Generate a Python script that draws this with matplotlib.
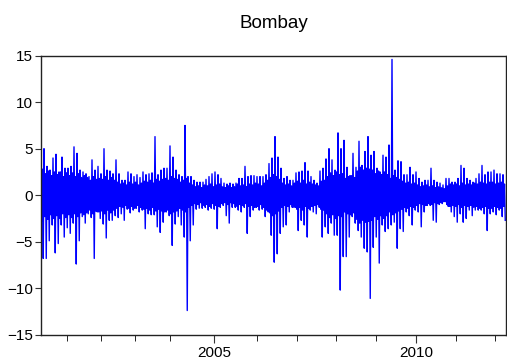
import numpy as np
import matplotlib
matplotlib.use('Agg')
import matplotlib.pyplot as plt

plt.rcParams['font.family'] = ['Liberation Sans', 'DejaVu Sans']

# daily return envelope (upper / lower extreme per step)
hi = [6.3, 5.0, 3.1, 2.7, 4.0, 4.4, 2.5, 4.1, 2.9, 2.9, 3.1, 5.2, 4.5, 2.7, 2.5, 2.3, 2.0, 3.8,
      2.7, 3.1, 2.3, 5.0, 2.7, 2.6, 2.3, 3.8, 2.3, 1.6, 1.6, 2.5, 2.3, 2.0, 2.2, 1.9, 2.5, 2.2,
      2.3, 2.4, 6.3, 2.2, 2.7, 2.9, 2.9, 5.3, 4.1, 2.7, 2.2, 2.0, 7.5, 2.0, 2.0, 1.6, 1.4, 1.4,
      1.4, 1.7, 2.0, 2.3, 2.5, 2.2, 1.8, 1.3, 1.2, 1.3, 1.2, 1.3, 1.8, 1.8, 3.1, 2.0, 2.1, 2.1,
      2.0, 2.0, 2.0, 2.2, 3.4, 4.0, 6.3, 4.1, 2.9, 1.8, 2.0, 1.6, 1.6, 2.4, 2.5, 2.6, 3.5, 2.6,
      2.0, 1.6, 1.3, 2.6, 2.9, 3.9, 5.0, 3.8, 2.7, 6.7, 5.0, 5.9, 3.0, 2.1, 4.5, 3.0, 5.8, 3.2,
      4.7, 6.3, 4.3, 4.7, 2.9, 2.5, 4.3, 4.1, 5.4, 14.6, 2.7, 3.7, 3.6, 2.2, 2.2, 3.0, 2.2, 2.5,
      1.8, 1.4, 1.6, 1.6, 2.9, 1.6, 1.4, 1.3, 1.1, 1.8, 1.8, 1.4, 1.4, 1.8, 3.2, 2.9, 1.8, 1.6,
      1.4, 1.8, 2.3, 3.2, 2.2, 2.5, 2.5, 2.7, 2.3, 2.3, 2.2]
lo = [-6.8, -6.8, -4.9, -3.2, -6.2, -5.2, -3.2, -4.5, -3.5, -4.1, -3.0, -7.4, -4.9, -2.3, -3.0,
      -2.0, -2.4, -6.8, -1.8, -2.5, -3.1, -4.6, -2.7, -2.7, -2.2, -2.4, -2.0, -2.7, -1.5, -1.9,
      -1.6, -1.4, -1.8, -1.6, -3.6, -2.0, -2.1, -2.1, -3.4, -4.0, -2.9, -1.8, -2.2, -5.4, -3.1,
      -2.3, -3.2, -4.5, -12.4, -4.9, -3.2, -1.5, -1.4, -1.4, -1.3, -1.6, -1.4, -1.5, -3.6, -1.3,
      -1.1, -2.2, -3.0, -1.3, -1.3, -1.6, -1.8, -1.3, -4.1, -2.3, -1.6, -1.3, -1.6, -1.5, -2.3,
      -1.8, -4.3, -7.2, -6.3, -4.1, -3.4, -3.2, -1.8, -1.3, -1.3, -3.8, -2.7, -3.2, -4.5, -1.6,
      -1.8, -2.0, -1.3, -4.5, -3.4, -4.1, -3.0, -4.3, -4.3, -10.2, -6.6, -6.6, -4.5, -2.3, -3.0,
      -3.8, -4.5, -5.7, -6.1, -11.1, -5.6, -4.5, -7.3, -3.2, -3.9, -3.6, -3.2, -2.9, -5.7, -3.6,
      -3.9, -1.8, -2.2, -3.2, -1.6, -1.8, -3.4, -1.8, -1.1, -1.1, -2.7, -2.9, -1.0, -0.9, -0.7,
      -1.2, -1.8, -2.3, -2.9, -2.0, -2.9, -2.5, -1.6, -2.2, -1.6, -1.6, -1.6, -2.0, -3.8, -2.0,
      -1.8, -2.1, -1.6, -2.3, -2.7]
# half-width of the dense core of the band per step
core = [2.8, 2.3, 2.6, 2.1, 2.5, 2.2, 2.6, 2.0, 2.4, 2.1, 2.4, 2.0, 2.3, 1.9, 2.1,
        1.9, 1.6, 2.0, 1.7, 1.8, 1.7, 2.0, 1.6, 1.9, 1.6, 1.4, 1.2, 1.3, 1.1, 1.4,
        1.2, 1.4, 1.1, 1.3, 1.5, 1.4, 1.6, 1.3, 1.7, 1.5, 1.7, 1.9, 1.6, 2.0, 1.8,
        1.7, 1.4, 1.6, 1.8, 1.3, 1.1, 0.9, 1.0, 0.8, 1.1, 1.0, 1.2, 0.9, 1.1, 1.2,
        0.9, 0.8, 1.0, 0.8, 0.9, 1.2, 1.0, 1.1, 0.9, 1.2, 1.1, 1.3, 1.2, 1.0, 1.3,
        1.6, 1.9, 2.2, 2.0, 1.7, 1.3, 1.1, 1.2, 1.0, 1.3, 1.5, 1.3, 1.6, 1.2, 1.4,
        1.2, 1.1, 1.0, 1.5, 1.6, 2.0, 2.4, 2.1, 2.5, 2.2, 2.3, 1.8, 2.0, 2.2, 1.9,
        2.6, 3.0, 2.7, 2.9, 2.8, 2.7, 2.3, 2.6, 2.2, 2.5, 2.2, 1.8, 2.1, 1.9, 1.7,
        1.5, 1.3, 1.4, 1.2, 1.3, 1.1, 0.9, 1.0, 1.1, 0.9, 1.0, 0.8, 0.9, 0.8, 0.9,
        1.0, 1.2, 1.1, 1.2, 1.0, 1.3, 1.1, 1.2, 1.1, 1.3, 1.2, 1.4, 1.3, 1.2, 1.4,
        1.4, 1.2, 1.3, 1.4, 1.2]

years = [2001, 2002, 2003, 2004, 2005, 2006, 2007, 2008, 2009, 2010, 2011, 2012]
year_pos = [8.7, 20.0, 31.3, 43.0, 57.7, 72.0, 85.3, 98.3, 111.7, 125.0, 138.3, 151.3]
labelled = [2005, 2010]

n = len(hi)
hi_a = np.array(hi)
lo_a = np.array(lo)
c = np.minimum(np.array(core), np.minimum(hi_a, -lo_a))

step = np.arange(n)
x = np.empty(4 * n)
y = np.empty(4 * n)
for k, (off, vals) in enumerate([(0.0, hi_a), (0.25, -c), (0.5, c), (0.75, lo_a)]):
    x[k::4] = step + off
    y[k::4] = vals

fig = plt.figure(figsize=(5.07, 3.64), dpi=100)
ax = fig.add_axes([41 / 507, (364 - 334.7) / 364, 465 / 507, 279 / 364])
ax.plot(x, y, color='#0000ff', lw=1.0)

ax.set_xlim(0, n)
ax.set_ylim(-15, 15)
ax.set_yticks([-15, -10, -5, 0, 5, 10, 15])

major = [p for p, yr in zip(year_pos, years) if yr in labelled]
minor = [p for p, yr in zip(year_pos, years) if yr not in labelled]
ax.set_xticks(major)
ax.set_xticklabels([str(yr) for yr in labelled])
ax.set_xticks(minor, minor=True)

ax.tick_params(axis='both', direction='out', labelsize=11, width=0.8, color='#333333')
ax.tick_params(axis='x', which='major', length=6, pad=2)
ax.tick_params(axis='x', which='minor', length=4)
ax.tick_params(axis='y', length=4, pad=2)
for s in ax.spines.values():
    s.set_linewidth(1.0)
    s.set_color('#222222')

ax.set_title('Bombay', fontsize=13.5, pad=20)

fig.savefig('out.png', dpi=100)
